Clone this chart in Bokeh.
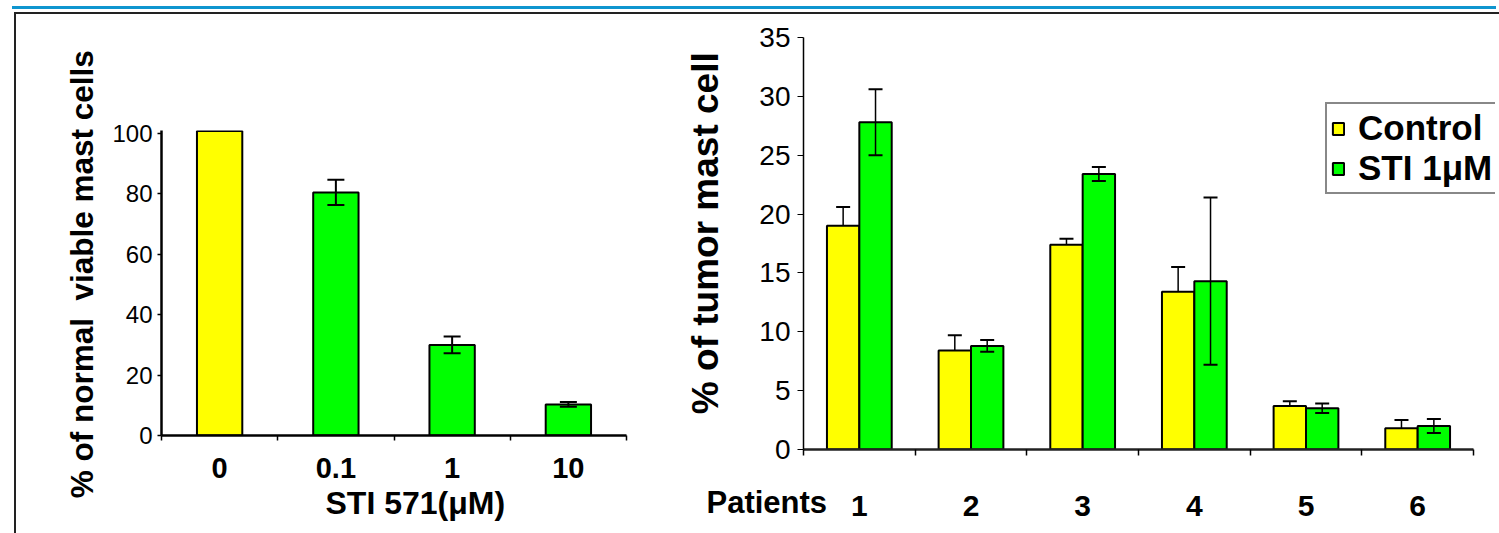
from bokeh.plotting import figure
from bokeh.models import (Range1d, FixedTicker, Whisker, TeeHead, ColumnDataSource,
                          Legend, LegendItem, Title, Div)
from bokeh.transform import dodge
from bokeh.embed import file_html
from bokeh.resources import INLINE

# ---------------- data: left chart ----------------
sti_doses = ["0", "0.1", "1", "10"]
viable_pct = [100.8, 80.5, 30.0, 10.3]
viable_err = [0.0, 4.2, 2.8, 0.8]
dose_colors = ["#FFFF00", "#00FF00", "#00FF00", "#00FF00"]
left_y_ticks = [0, 20, 40, 60, 80, 100]

# ---------------- data: right chart ----------------
patients = ["1", "2", "3", "4", "5", "6"]
control_pct = [19.0, 8.4, 17.4, 13.4, 3.7, 1.8]
control_err = [1.6, 1.3, 0.5, 2.1, 0.4, 0.7]
sti_pct = [27.8, 8.8, 23.4, 14.3, 3.5, 2.0]
sti_err = [2.8, 0.5, 0.6, 7.1, 0.4, 0.6]
right_y_ticks = [0, 5, 10, 15, 20, 25, 30, 35]

FONT = "Liberation Sans"
YELLOW = "#FFFF00"
GREEN = "#00FF00"
NB = "\u00a0"


def clean(p):
    p.grid.visible = False
    p.outline_line_color = None
    p.background_fill_color = "white"
    p.border_fill_color = "white"


def place(model, left, top, **extra):
    st = {"position": "absolute", "left": f"{left}px", "top": f"{top}px"}
    st.update(extra)
    model.styles = st


# ================= left chart =================
xl = [i + 0.5 for i in range(len(sti_doses))]
src_l = ColumnDataSource(dict(x=xl, top=viable_pct, color=dose_colors))
err_idx = [i for i, e in enumerate(viable_err) if e > 0]
src_le = ColumnDataSource(dict(
    x=[xl[i] for i in err_idx],
    upper=[viable_pct[i] + viable_err[i] for i in err_idx],
    lower=[viable_pct[i] - viable_err[i] for i in err_idx],
))

pl = figure(width=669, height=524, x_range=Range1d(0, len(sti_doses)), y_range=Range1d(0, 101),
            output_backend="svg", toolbar_location=None,
            min_border_left=150, min_border_right=54, min_border_top=121, min_border_bottom=98)
clean(pl)
pl.vbar(x="x", top="top", bottom=0, width=0.39, fill_color="color", line_color="black",
        line_width=2, source=src_l)
pl.add_layout(Whisker(source=src_le, base="x", upper="upper", lower="lower", line_width=2,
                      line_color="black", level="overlay",
                      upper_head=TeeHead(size=17, line_width=2, line_color="black"),
                      lower_head=TeeHead(size=17, line_width=2, line_color="black")))

ya = pl.yaxis[0]
ya.ticker = FixedTicker(ticks=left_y_ticks)
ya.axis_line_width = 2.5
ya.axis_line_color = "black"
ya.major_tick_out = 4
ya.major_tick_in = 0
ya.major_tick_line_width = 1.5
ya.minor_tick_out = 0
ya.minor_tick_in = 0
ya.major_label_text_font = FONT
ya.major_label_text_font_size = "24px"
ya.major_label_text_color = "black"
ya.major_label_standoff = 5
ya.axis_label = NB * 2 + "% of normal" + NB * 2 + "viable mast cells"
ya.axis_label_text_font = FONT
ya.axis_label_text_font_size = "31.5px"
ya.axis_label_text_font_style = "bold"
ya.axis_label_text_color = "black"
ya.axis_label_standoff = 9

xa = pl.xaxis[0]
xa.ticker = FixedTicker(ticks=xl, minor_ticks=list(range(len(sti_doses) + 1)))
xa.major_label_overrides = {x: lab for x, lab in zip(xl, sti_doses)}
xa.axis_line_width = 2.5
xa.axis_line_color = "black"
xa.major_tick_out = 0
xa.major_tick_in = 0
xa.minor_tick_out = 5
xa.minor_tick_in = 0
xa.minor_tick_line_width = 1.5
xa.minor_tick_line_color = "black"
xa.major_label_text_font = FONT
xa.major_label_text_font_size = "29px"
xa.major_label_text_font_style = "bold"
xa.major_label_text_color = "black"
xa.major_label_standoff = 17
pl.add_layout(Title(text="STI 571(μM)", align="left", offset=164, standoff=4, text_font=FONT,
                    text_font_size="32px", text_font_style="bold", text_color="black"), "below")

# ================= right chart =================
xr = [i + 0.5 for i in range(len(patients))]
src_r = ColumnDataSource(dict(
    x=xr, control=control_pct, sti=sti_pct,
    c_up=[v + e for v, e in zip(control_pct, control_err)],
    s_up=[v + e for v, e in zip(sti_pct, sti_err)],
    s_lo=[v - e for v, e in zip(sti_pct, sti_err)],
))

R_W, R_LEFT = 815, 123
AXIS_PX = 670  # drawn length of the category axis; the frame runs on to the edge for the legend
x_end = len(patients) * (R_W - R_LEFT) / AXIS_PX

pr = figure(width=R_W, height=524, x_range=Range1d(0, x_end), y_range=Range1d(0, 35),
            output_backend="svg", toolbar_location=None,
            min_border_left=R_LEFT, min_border_right=0, min_border_top=28, min_border_bottom=84)
clean(pr)
r_c = pr.vbar(x=dodge("x", -0.145, range=pr.x_range), top="control", bottom=0, width=0.29,
              fill_color=YELLOW, line_color="black", line_width=2, source=src_r)
r_s = pr.vbar(x=dodge("x", 0.145, range=pr.x_range), top="sti", bottom=0, width=0.29,
              fill_color=GREEN, line_color="black", line_width=2, source=src_r)
pr.add_layout(Whisker(source=src_r, base=dodge("x", -0.145, range=pr.x_range), upper="c_up",
                      lower="control", line_width=1.5, line_color="black", level="overlay",
                      upper_head=TeeHead(size=14, line_width=2, line_color="black"),
                      lower_head=None))
pr.add_layout(Whisker(source=src_r, base=dodge("x", 0.145, range=pr.x_range), upper="s_up",
                      lower="s_lo", line_width=1.5, line_color="black", level="overlay",
                      upper_head=TeeHead(size=14, line_width=2, line_color="black"),
                      lower_head=TeeHead(size=14, line_width=2, line_color="black")))

ya = pr.yaxis[0]
ya.ticker = FixedTicker(ticks=right_y_ticks)
ya.axis_line_width = 1.5
ya.axis_line_color = "black"
ya.major_tick_out = 6
ya.major_tick_in = 0
ya.major_tick_line_width = 1
ya.minor_tick_out = 0
ya.minor_tick_in = 0
ya.major_label_text_font = FONT
ya.major_label_text_font_size = "28px"
ya.major_label_text_color = "black"
ya.major_label_standoff = 7
ya.axis_label = NB * 2 + "% of tumor mast cell"
ya.axis_label_text_font = FONT
ya.axis_label_text_font_size = "37px"
ya.axis_label_text_font_style = "bold"
ya.axis_label_text_color = "black"
ya.axis_label_standoff = 30

xa = pr.xaxis[0]
xa.bounds = (0, len(patients))
xa.ticker = FixedTicker(ticks=xr, minor_ticks=list(range(len(patients) + 1)))
xa.major_label_overrides = {x: lab for x, lab in zip(xr, patients)}
xa.axis_line_width = 2.5
xa.axis_line_color = "#222222"
xa.major_tick_out = 0
xa.major_tick_in = 0
xa.minor_tick_out = 6
xa.minor_tick_in = 0
xa.minor_tick_line_width = 1.5
xa.minor_tick_line_color = "black"
xa.major_label_text_font = FONT
xa.major_label_text_font_size = "30px"
xa.major_label_text_font_style = "bold"
xa.major_label_text_color = "black"
xa.major_label_standoff = 40
pr.add_layout(Title(text="Patients", align="left", vertical_align="top", offset=-97,
                    standoff=-67, text_font=FONT, text_font_size="31px",
                    text_font_style="bold", text_color="black"), "below")

legend = Legend(items=[LegendItem(label="Control", renderers=[r_c]),
                       LegendItem(label="STI 1μM", renderers=[r_s])],
                location=(522, 255), label_text_font=FONT, label_text_font_size="35px",
                label_text_font_style="bold", label_text_color="black",
                glyph_width=14, glyph_height=15, label_standoff=13, padding=4, spacing=0,
                border_line_color="#111111", border_line_width=2, background_fill_color="white",
                background_fill_alpha=1, margin=0)
pr.add_layout(legend)

# ================= page =================
blue = Div(text="", width=1484, height=3)
place(blue, 7, 1, **{"background-color": "#0e95cf"})

top_line = Div(text="", width=1487, height=2)
place(top_line, 9, 7, **{"background-color": "#222222"})
left_line = Div(text="", width=2, height=526)
place(left_line, 9, 7, **{"background-color": "#222222"})
right_line = Div(text="", width=2, height=526)
place(right_line, 1494, 7, **{"background-color": "#222222"})

place(pl, 11, 9)
place(pr, 680, 9)

open("out.html", "w").write(file_html([blue, pl, pr, top_line, left_line, right_line], INLINE))
